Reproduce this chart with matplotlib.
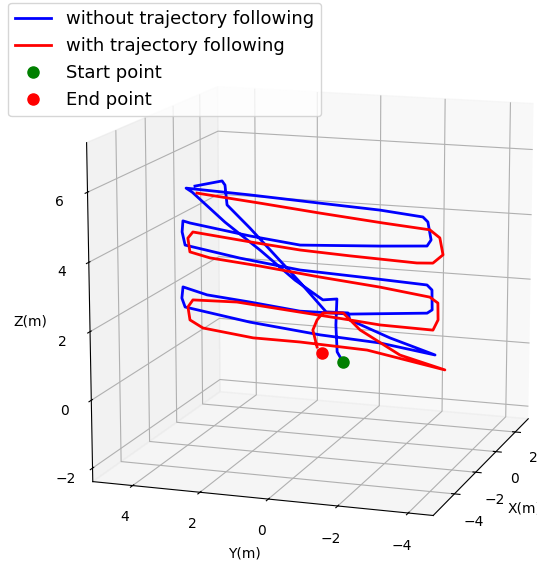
import matplotlib
matplotlib.use("Agg")
import matplotlib.pyplot as plt

# trajectory without following (blue), metres
blue_y = [-0.04, 0.14, 0.18, 0.15, 0.58, 1.44, 2.52, 3.61, 4.63, 4.82, 2.82, 0.67, -1.15, -2.44,
          -2.59, -2.69, -2.57, -1.16, 1.28, 2.83, 4.71, 4.93, 4.96, 4.87, 3.15, 1.28, -0.86,
          -2.58, -2.73, -2.74, -2.59, -0.25, 1.29, 2.84, 4.19, 4.95, 4.99, 4.89, 2.85, 0.67,
          -1.17, -2.84, -1.47, -0.25, -0.19, 0.48, 1.29, 2.06, 2.83, 3.54, 3.60, 3.69, 4.54]
blue_z = [-0.06, 0.24, 1.06, 1.86, 1.80, 2.34, 3.18, 3.96, 4.81, 4.92, 4.84, 4.73, 4.64, 4.52,
          4.38, 3.85, 3.66, 3.56, 3.42, 3.59, 3.86, 3.91, 3.57, 3.17, 2.89, 2.66, 2.57,
          2.49, 2.35, 1.75, 1.64, 1.43, 1.40, 1.56, 1.68, 1.87, 1.52, 1.25, 0.94, 0.72,
          0.62, 0.39, 0.80, 1.25, 1.46, 1.44, 2.29, 3.06, 3.83, 4.49, 5.09, 5.21, 5.00]
blue_x = [0.0] * len(blue_y)

# trajectory with following (red)
red_y = [4.48, 2.51, 0.67, -1.24, -2.65, -2.95, -3.05, -2.75, -2.27, -0.25, 1.28, 2.83, 4.62, 4.78,
         4.72, 4.09, 2.52, 0.67, -1.16, -2.67, -2.91, -2.92, -2.77, -1.17, -0.25, 1.29, 3.25, 4.64,
         4.8, 4.74, 4.33, 2.75, 1.29, -0.78, -3.14, -1.78, -0.56, -0.04, 0.58, 0.76, 0.89, 0.76]
red_z = [4.79, 4.61, 4.43, 4.26, 4.15, 3.93, 3.43, 3.16, 3.13, 3.2, 3.27, 3.41, 3.59, 3.39,
         2.97, 2.83, 2.69, 2.49, 2.32, 2.13, 1.97, 1.46, 1.14, 1.17, 1.25, 1.37, 1.53, 1.49,
         1.26, 0.86, 0.64, 0.46, 0.45, 0.37, -0.04, 0.3, 0.97, 1.45, 1.4, 1.17, 0.85, 0.34]
red_x = [0.0] * len(red_y)

start_pt = (0.0, -0.04, -0.06)
end_pt = (0.0, 0.61, 0.17)

x_ticks = [-4, -2, 0, 2]
y_ticks = [-4, -2, 0, 2, 4]
z_ticks = [-2, 0, 2, 4, 6]

fig = plt.figure(figsize=(5.37, 5.62), dpi=100)
ax = fig.add_axes([0.08, -0.025, 1.0, 1.0], projection='3d')

ax.plot(blue_x, blue_y, blue_z, color='blue', lw=2, label='without trajectory following')
ax.plot(red_x, red_y, red_z, color='red', lw=2, label='with trajectory following')
ax.plot([start_pt[0]], [start_pt[1]], [start_pt[2]], 'o', color='green', ms=8, label='Start point')
ax.plot([end_pt[0]], [end_pt[1]], [end_pt[2]], 'o', color='red', ms=8, label='End point')

ax.set_xlim(-5.9, 3.4)
ax.set_ylim(-4.7, 5.2)
ax.set_zlim(-2.4, 7.4)
ax.set_xticks(x_ticks)
ax.set_yticks(y_ticks)
ax.set_zticks(z_ticks)
ax.set_box_aspect((10.4, 10.1, 9.8), zoom=1.082)
ax.view_init(elev=13, azim=-161.5)

ax.set_xlabel('X(m)')
ax.set_ylabel('Y(m)')
ax.set_zlabel('Z(m)')
ax.legend(loc='upper left', bbox_to_anchor=(0.015, 0.995), bbox_transform=fig.transFigure,
          borderaxespad=0, fontsize=13)

fig.savefig('out.png', dpi=100)
